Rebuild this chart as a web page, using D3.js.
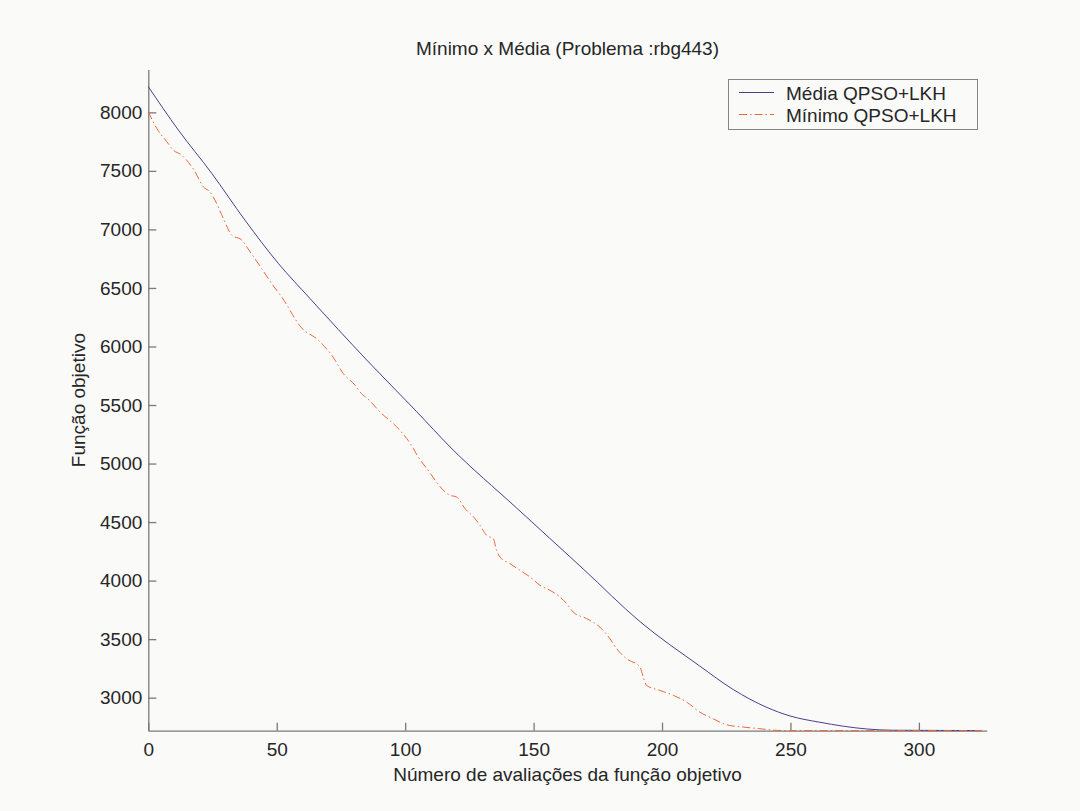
<!DOCTYPE html>
<html><head><meta charset="utf-8">
<script src="https://cdn.jsdelivr.net/npm/d3@7"></script>
<style>
html,body{margin:0;padding:0;background:#fafaf8;}
text{font-family:"Liberation Sans",Arial,sans-serif;fill:#262626;}
</style></head>
<body>
<svg id="c" width="1080" height="811"></svg>
<script>
const title = "Mínimo x Média (Problema :rbg443)";
const xLabel = "Número de avaliações da função objetivo";
const yLabel = "Função objetivo";
const seriesNames = ["Média QPSO+LKH", "Mínimo QPSO+LKH"];
const xTicks = [0, 50, 100, 150, 200, 250, 300];
const yTicks = [3000, 3500, 4000, 4500, 5000, 5500, 6000, 6500, 7000, 7500, 8000];

const mediaX = [0, 11.7, 24.7, 37.6, 50.6, 62.9, 85, 104.5, 117.4, 143.4, 169.3, 191.4, 214.7, 227.7, 240.7, 249.8, 261.5, 279.6, 289.4, 324.4];
const mediaY = [8219, 7849, 7479, 7080, 6710, 6411, 5885, 5443, 5144, 4620, 4100, 3650, 3270, 3070, 2918, 2844, 2790, 2733, 2722, 2719];

const minX = [0, 3.3, 7.2, 9.7, 13, 14.9, 18.2, 21.4, 24, 26.6, 29.2, 32.5, 36.4, 39.6, 44.1, 48, 51.9, 59.7, 66.2, 68.1, 71.4, 72.7, 75.9, 80.5, 82.4, 86.3, 90.2, 96.7, 100.6, 102, 105.1, 108.4, 117.4, 120, 123.3, 127.2, 129.1, 131.7, 134.3, 135.6, 136.9, 140.8, 144.7, 148.6, 152.5, 156.4, 160.3, 162.9, 165.4, 170.7, 175.8, 179.7, 182.3, 186.2, 191.4, 192.7, 194, 199.2, 204.4, 209.6, 214.7, 219.9, 225.1, 231.6, 238.1, 244.6, 250, 324.4];
const minY = [8005, 7863, 7749, 7678, 7635, 7592, 7492, 7364, 7321, 7222, 7094, 6951, 6909, 6809, 6667, 6538, 6424, 6159, 6054, 6011, 5926, 5883, 5769, 5669, 5612, 5535, 5441, 5313, 5214, 5171, 5056, 4957, 4729, 4715, 4615, 4530, 4473, 4387, 4359, 4259, 4202, 4145, 4088, 4031, 3960, 3917, 3860, 3803, 3732, 3675, 3603, 3504, 3419, 3333, 3262, 3176, 3105, 3062, 3020, 2962, 2877, 2820, 2769, 2749, 2735, 2721, 2719, 2719];

const svg = d3.select("#c");
const L = 148.3, R = 986.7, T = 69.5, B = 730.7;
const x = d3.scaleLinear().domain([0, 326.4]).range([L, R]);
const y = d3.scaleLinear().domain([2718, 8366]).range([B, T]);

const axisColor = "#7a7a7a";
const fs = 19;
const fmt = d3.format("d");

const gx = svg.append("g").attr("transform", `translate(0,${B})`)
  .call(d3.axisBottom(x).tickValues(xTicks).tickFormat(fmt).tickSizeInner(-8).tickSizeOuter(0).tickPadding(12));
const gy = svg.append("g").attr("transform", `translate(${L},0)`)
  .call(d3.axisLeft(y).tickValues(yTicks).tickFormat(fmt).tickSizeInner(-8).tickSizeOuter(0).tickPadding(6));
[gx, gy].forEach(g => {
  g.select(".domain").attr("stroke", axisColor).attr("stroke-width", 1.3);
  g.selectAll(".tick line").attr("stroke", axisColor).attr("stroke-width", 1.3);
  g.selectAll(".tick text").attr("font-size", fs).attr("fill", "#262626")
    .attr("font-family", '"Liberation Sans",Arial,sans-serif');
});

const line = d3.line().x(d => x(d[0])).y(d => y(d[1])).curve(d3.curveMonotoneX);
const mediaData = mediaX.map((v, i) => [v, mediaY[i]]);
const minData = minX.map((v, i) => [v, minY[i]]);

const colMedia = "#4c3e8e", colMin = "#f0683a";
svg.append("path").datum(mediaData).attr("d", line).attr("fill", "none")
  .attr("stroke", colMedia).attr("stroke-width", 1);
svg.append("path").datum(minData).attr("d", line).attr("fill", "none")
  .attr("stroke", colMin).attr("stroke-width", 1).attr("stroke-dasharray", "8,3,1.5,3");

svg.append("text").attr("x", (L + R) / 2).attr("y", 55).attr("text-anchor", "middle")
  .attr("font-size", fs).text(title);
svg.append("text").attr("x", (L + R) / 2).attr("y", 781).attr("text-anchor", "middle")
  .attr("font-size", fs).text(xLabel);
svg.append("text").attr("transform", `translate(85,${(T + B) / 2}) rotate(-90)`)
  .attr("text-anchor", "middle").attr("font-size", fs).text(yLabel);

const lg = svg.append("g");
lg.append("rect").attr("x", 728.5).attr("y", 79.5).attr("width", 249).attr("height", 50)
  .attr("fill", "#fafaf8").attr("stroke", "#858585").attr("stroke-width", 1);
const cols = [colMedia, colMin];
const dashes = [null, "8,3,1.5,3"];
seriesNames.forEach((n, i) => {
  const yy = 92.5 + i * 22;
  lg.append("line").attr("x1", 739).attr("x2", 774).attr("y1", yy).attr("y2", yy)
    .attr("stroke", cols[i]).attr("stroke-width", 1).attr("stroke-dasharray", dashes[i]);
  lg.append("text").attr("x", 786).attr("y", yy + 7).attr("font-size", fs).text(n);
});
</script>
</body></html>
